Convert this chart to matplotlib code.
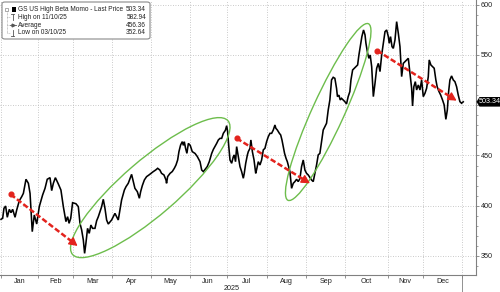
import numpy as np
import pandas as pd
import matplotlib
matplotlib.use("Agg")
import matplotlib.pyplot as plt
from matplotlib.patches import Ellipse, FancyBboxPatch, Rectangle, Polygon
from matplotlib.transforms import ScaledTranslation, blended_transform_factory
from matplotlib.lines import Line2D

plt.rcParams['font.family'] = ['Liberation Sans', 'DejaVu Sans']

# ---------------- data ----------------
holidays = ['2025-01-01', '2025-01-09', '2025-01-20', '2025-02-17', '2025-04-18',
            '2025-05-26', '2025-06-19', '2025-07-04', '2025-09-01', '2025-11-27',
            '2025-12-25']
month_labels = ['Jan', 'Feb', 'Mar', 'Apr', 'May', 'Jun', 'Jul', 'Aug', 'Sep', 'Oct', 'Nov', 'Dec']
year_label = '2025'

# trading-day position (0 = first session of 2025) and index level
days_q1 = [0, 0.9, 1.6, 2.5, 3.4, 4.5, 5.4, 6.3, 7.6, 8.5, 9.9, 11.2, 12.1, 13.5, 14.8, 15.7,
           16.9, 18.0, 19.3, 20.7, 22.5, 23.8, 25.0, 26.5, 27.4, 28.3, 29.4, 31.0, 32.4, 33.7,
           35.1, 36.0, 36.8, 37.7, 38.7, 40.5, 41.8, 42.7, 43.6, 44.5, 45.2, 45.9, 46.8, 47.7,
           48.6, 49.5]
price_q1 = [386.5, 387.5, 397.4, 399.7, 388.5, 396.4, 393.1, 396.4, 388.5, 395.8, 405.0, 409.0,
            412.3, 426.3, 422.3, 412.3, 374.2, 390.8, 381.8, 399.1, 410.7, 417.3, 426.3, 427.9,
            415.0, 422.3, 427.9, 421.6, 415.6, 399.1, 384.2, 389.1, 382.5, 387.5, 403.0, 402.0,
            399.1, 382.5, 375.9, 366.0, 352.6, 362.6, 377.5, 372.5, 380.8, 377.5]

days_q2 = [50.8, 51.7, 52.6, 54.4, 55.3, 56.2, 57.1, 58.0, 59.8, 61.6, 63.4, 64.3, 65.2, 66.7,
           67.6, 68.8, 70.6, 72.4, 73.7, 74.8, 75.5, 76.4, 77.5, 78.7, 80.0, 82.3, 83.6, 84.7,
           85.9, 86.8, 88.1, 89.2, 89.5, 90.1, 91.4, 92.6, 93.7, 94.6, 95.5, 96.2, 97.1, 98.0,
           98.6, 99.1, 99.8, 100.5, 101.3, 102.3, 103.4, 104.9]
price_q2 = [377.5, 385.0, 389.0, 399.0, 406.4, 397.5, 385.8, 381.8, 385.8, 392.4, 385.8, 395.8,
            405.7, 415.6, 419.0, 422.3, 431.2, 417.3, 414.0, 407.4, 414.0, 420.0, 425.6, 428.9,
            430.6, 433.9, 435.5, 437.2, 435.5, 432.2, 430.6, 425.6, 422.3, 429.0, 432.2, 434.0,
            437.2, 440.5, 445.5, 453.8, 460.4, 463.7, 460.0, 463.7, 457.0, 452.1, 462.0, 460.0,
            453.8, 452.0]

days_q3 = [106.1, 107.6, 108.5, 109.4, 110.3, 111.5, 112.6, 113.9, 114.8, 116.6, 117.5, 118.4,
           119.3, 120.2, 121.3, 122.0, 122.5, 123.1, 123.8, 124.7, 125.6, 126.1, 126.8, 127.4,
           128.3, 129.2, 130.1, 131.0, 131.5, 132.3, 133.2, 133.7, 134.6, 135.1, 135.9, 136.8,
           137.7, 138.2, 139.1, 140.0, 140.9, 141.8, 142.7, 143.6, 144.5, 145.4, 146.3, 147.2,
           148.1, 148.6, 149.4, 150.5, 151.2, 151.9, 152.6, 153.3, 154.1, 154.8, 155.5, 156.2]
price_q3 = [449.0, 443.8, 435.5, 433.9, 436.0, 438.9, 443.8, 452.0, 456.0, 462.0, 465.4, 467.0,
            467.0, 472.0, 475.0, 479.6, 474.0, 460.0, 445.5, 442.2, 448.8, 450.5, 443.8, 458.8,
            448.8, 438.9, 433.9, 427.3, 432.0, 442.2, 450.5, 453.8, 457.0, 465.4, 453.8, 445.5,
            432.2, 436.0, 443.8, 440.5, 445.5, 455.5, 457.1, 463.7, 468.7, 472.0, 472.0, 475.3,
            480.3, 477.0, 475.3, 472.0, 470.4, 465.4, 458.8, 452.1, 447.1, 443.8, 438.9, 433.9]

days_q4a = [157.1, 158.0, 158.9, 159.8, 160.7, 161.6, 162.5, 163.4, 164.3, 165.2, 166.1, 167.0,
            167.9, 168.8, 169.7, 170.6, 171.5, 172.4, 173.3, 174.2, 175.1, 176.0, 176.9, 177.8,
            178.7, 179.6, 180.5, 181.4, 181.9, 182.7, 183.4, 184.1, 185.0, 185.9, 186.8, 187.7,
            188.6, 189.2, 190.1, 191.0, 191.9, 192.8, 193.5, 194.4, 195.1, 196.0, 196.8, 197.3,
            198.2, 198.9, 199.6, 200.4, 201.3, 202.2, 203.1, 204.0, 204.9]
price_q4a = [417.3, 422.3, 424.0, 426.3, 424.0, 427.0, 438.9, 445.5, 435.5, 432.2, 430.6, 428.0,
             425.6, 424.0, 432.2, 440.5, 450.5, 452.1, 463.7, 475.3, 478.6, 482.0, 495.2, 505.2,
             525.1, 527.7, 526.7, 516.8, 508.5, 510.0, 505.2, 506.8, 505.2, 503.5, 501.2, 508.5,
             513.5, 525.1, 535.0, 536.7, 538.3, 540.0, 549.9, 559.9, 568.2, 574.8, 569.9, 561.5,
             551.6, 546.6, 549.9, 538.3, 508.5, 521.8, 536.7, 541.6, 533.4]

days_q4b = [205.8, 206.7, 207.6, 208.5, 209.4, 209.9, 210.6, 211.4, 212.1, 213.0, 213.9, 214.8,
            215.7, 216.6, 217.5, 218.4, 219.3, 220.2, 221.1, 222.0, 222.5, 223.2, 224.0, 224.7,
            225.6, 226.5, 227.4, 228.3, 229.2, 230.1, 231.0, 231.5, 232.4, 233.3, 234.2, 235.1,
            235.8, 236.8, 237.7, 238.7, 239.6, 240.5, 241.3, 242.0, 242.7, 243.6, 244.5, 245.4,
            246.3, 247.2, 248.1, 249.0, 249.9]
price_q4b = [549.9, 561.5, 573.1, 574.8, 568.2, 561.5, 568.2, 558.2, 556.5, 564.9, 583.1, 571.5,
             558.2, 528.4, 541.6, 543.3, 545.0, 546.6, 531.7, 516.8, 499.2, 518.4, 523.4, 515.1,
             520.1, 515.1, 525.1, 508.5, 511.8, 516.8, 528.4, 545.0, 540.0, 538.3, 536.7, 525.1,
             518.4, 513.5, 510.1, 505.2, 500.2, 485.9, 495.2, 513.5, 525.1, 529.1, 525.1, 523.4,
             518.4, 510.1, 503.5, 501.9, 503.34]

legend_title = 'GS US High Beta Momo - Last Price'
legend_labels = ['High on 11/10/25', 'Average', 'Low on 03/10/25']
legend_values = ['503.34', '582.94', '456.36', '352.64']
last_price = 503.34

# annotations: (trading day, level)
ellipse_centers = [(80.7, 418.0), (176.9, 493.2)]
ellipse_sizes_in = [(2.05, 0.55, 40.7), (1.94, 0.32, 65.5)]  # width, height (inches), angle
arrow_starts = [(5.2, 411.3), (127.4, 467.0), (203.4, 554.2)]
arrow_ends = [(41.4, 360.0), (167.0, 422.3), (246.3, 504.5)]

# ---------------- figure ----------------
W, H = 500, 292
fig = plt.figure(figsize=(W / 100, H / 100), dpi=100)
ax = fig.add_axes([0, 17 / H, 476 / W, 275 / H])

days = np.concatenate([days_q1, days_q2, days_q3, days_q4a, days_q4b])
price = np.concatenate([price_q1, price_q2, price_q3, price_q4a, price_q4b])

ax.plot(days, price, color='black', lw=1.15, solid_joinstyle='miter', zorder=3)

ax.set_xlim(-0.54, 256.8)
ax.set_ylim(331.1, 604.6)

# trading calendar for month boundaries
sessions = pd.bdate_range('2025-01-01', '2025-12-31').difference(pd.to_datetime(holidays))
month_start = [int(np.where(sessions.month == m)[0][0]) for m in range(1, 13)]
n_sessions = len(sessions)
bounds = month_start + [n_sessions - 0.5]
mids = [(bounds[i] + bounds[i + 1]) / 2 for i in range(12)]

grid_c = '#b8b8b8'
spine_c = '#808080'
ax.set_xticks(bounds)
ax.set_xticklabels([])
ax.set_xticks(mids, minor=True)
ax.set_xticklabels(month_labels, minor=True)
ax.tick_params(axis='x', which='major', direction='out', length=2, width=0.6, color=spine_c)
ax.tick_params(axis='x', which='minor', length=0, labelsize=5.2, pad=2, labelcolor='#222222')

ax.yaxis.tick_right()
yticks = np.arange(350, 601, 50)
ax.set_yticks(yticks)
# the last-price tag sits on top of the 500 label, as in the reference
ax.set_yticklabels(['' if abs(t - last_price) < 12 else f'{t:d}' for t in yticks])
ax.set_yticks(np.arange(340, 601, 10), minor=True)
ax.tick_params(axis='y', which='major', direction='out', length=2.5, width=0.6, color=spine_c,
               labelsize=5.2, pad=1, labelcolor='#222222')
ax.tick_params(axis='y', which='minor', direction='out', length=1.2, width=0.5, color=spine_c)

ax.grid(True, which='major', linestyle=(0, (1, 2)), color=grid_c, linewidth=0.6)
for s in ['top', 'left']:
    ax.spines[s].set_visible(False)
for s in ['right', 'bottom']:
    ax.spines[s].set_color(spine_c)
    ax.spines[s].set_linewidth(0.8)

# year separator and label
tr = blended_transform_factory(ax.transData, ax.transAxes)
ax.add_line(Line2D([bounds[-1], bounds[-1]], [0, -17 / 275], transform=tr, color=spine_c,
                   lw=0.6, clip_on=False))
fig.text(232 / W, 1 - 288 / H, year_label, ha='center', va='center', fontsize=5.2, color='#222222')

# green ellipses
green = '#6dbd4c'
for (cx, cy), (w, h, ang) in zip(ellipse_centers, ellipse_sizes_in):
    trans = fig.dpi_scale_trans + ScaledTranslation(cx, cy, ax.transData)
    ax.add_patch(Ellipse((0, 0), w, h, angle=ang, transform=trans, fill=False,
                         edgecolor=green, lw=1.0, zorder=4))

# red dashed arrows
red = '#e3231d'
for (sx, sy), (ex, ey) in zip(arrow_starts, arrow_ends):
    ax.plot([sx, ex - 0.06 * (ex - sx)], [sy, ey - 0.06 * (ey - sy)], color=red, lw=1.8,
            linestyle=(0, (2.2, 1.0)), zorder=5, solid_capstyle='butt')
    ax.plot([sx], [sy], 'o', color=red, ms=3.4, zorder=5)
    ax.annotate('', xy=(ex, ey), xytext=(ex - 0.1 * (ex - sx), ey - 0.1 * (ey - sy)),
                arrowprops=dict(arrowstyle='-|>,head_length=0.5,head_width=0.27', color=red,
                                lw=1.0, shrinkA=0, shrinkB=0), zorder=6)

# last price tag
ytag = ax.transData.transform((0, last_price))[1]
ytag_px = H - ytag
def fpt(x, y):
    return (x / W, 1 - y / H)
tag = Polygon([fpt(476.5, ytag_px), fpt(479.5, ytag_px - 4.8), fpt(500, ytag_px - 4.8),
               fpt(500, ytag_px + 4.8), fpt(479.5, ytag_px + 4.8)], closed=True,
              transform=fig.transFigure, facecolor='black', edgecolor='none', zorder=10)
fig.patches.append(tag)
fig.text(489.5 / W, 1 - ytag_px / H, f'{last_price:.2f}', color='white', fontsize=5.2,
         ha='center', va='center', zorder=11)

# legend box
box = FancyBboxPatch(fpt(2, 39), 148 / W, 37 / H, boxstyle='round,pad=0,rounding_size=0.006',
                     transform=fig.transFigure, facecolor='white', edgecolor='#8a8a8a', lw=0.8,
                     zorder=8)
fig.patches.append(box)
rows_y = [9.3, 17.2, 25.1, 33.0]
lc = '#555555'
# tree line
fig.add_artist(Line2D([6.5 / W, 6.5 / W], [1 - 11 / H, 1 - 33 / H], transform=fig.transFigure,
                      color='#999999', lw=0.5, linestyle=(0, (1, 1)), zorder=9))
for yy in rows_y[1:]:
    fig.add_artist(Line2D([6.5 / W, 9.5 / W], [1 - yy / H, 1 - yy / H], transform=fig.transFigure,
                          color='#999999', lw=0.5, linestyle=(0, (1, 1)), zorder=9))
fig.patches.append(Rectangle(fpt(5, 11), 3 / W, 3 / H, transform=fig.transFigure,
                             facecolor='white', edgecolor='#888888', lw=0.5, zorder=9))
fig.patches.append(Rectangle(fpt(11.5, 12), 4.5 / W, 5 / H, transform=fig.transFigure,
                             facecolor='black', edgecolor='none', zorder=9))
# high symbol
y2 = rows_y[1]
fig.add_artist(Line2D([12.5 / W, 12.5 / W], [1 - (y2 - 3) / H, 1 - (y2 + 3) / H],
                      transform=fig.transFigure, color=lc, lw=0.6, zorder=9))
fig.add_artist(Line2D([11 / W, 14 / W], [1 - (y2 - 3) / H, 1 - (y2 - 3) / H],
                      transform=fig.transFigure, color=lc, lw=0.6, zorder=9))
# average symbol
y3 = rows_y[2]
fig.add_artist(Line2D([10 / W, 15.5 / W], [1 - y3 / H, 1 - y3 / H],
                      transform=fig.transFigure, color=lc, lw=0.6, zorder=9))
fig.add_artist(Line2D([12.5 / W], [1 - y3 / H], transform=fig.transFigure, color=lc,
                      marker='>', ms=2, lw=0, zorder=9))
# low symbol
y4 = rows_y[3]
fig.add_artist(Line2D([12.5 / W, 12.5 / W], [1 - (y4 - 3) / H, 1 - (y4 + 3) / H],
                      transform=fig.transFigure, color=lc, lw=0.6, zorder=9))
fig.add_artist(Line2D([11 / W, 14 / W], [1 - (y4 + 3) / H, 1 - (y4 + 3) / H],
                      transform=fig.transFigure, color=lc, lw=0.6, zorder=9))

labels = [legend_title] + legend_labels
for yy, lab, val in zip(rows_y, labels, legend_values):
    fig.text(18 / W, 1 - yy / H, lab, fontsize=4.7, ha='left', va='center', color='#222222',
             zorder=10)
    fig.text(146 / W, 1 - yy / H, val, fontsize=4.7, ha='right', va='center', color='#222222',
             zorder=10)

fig.savefig('out.png', dpi=100)
